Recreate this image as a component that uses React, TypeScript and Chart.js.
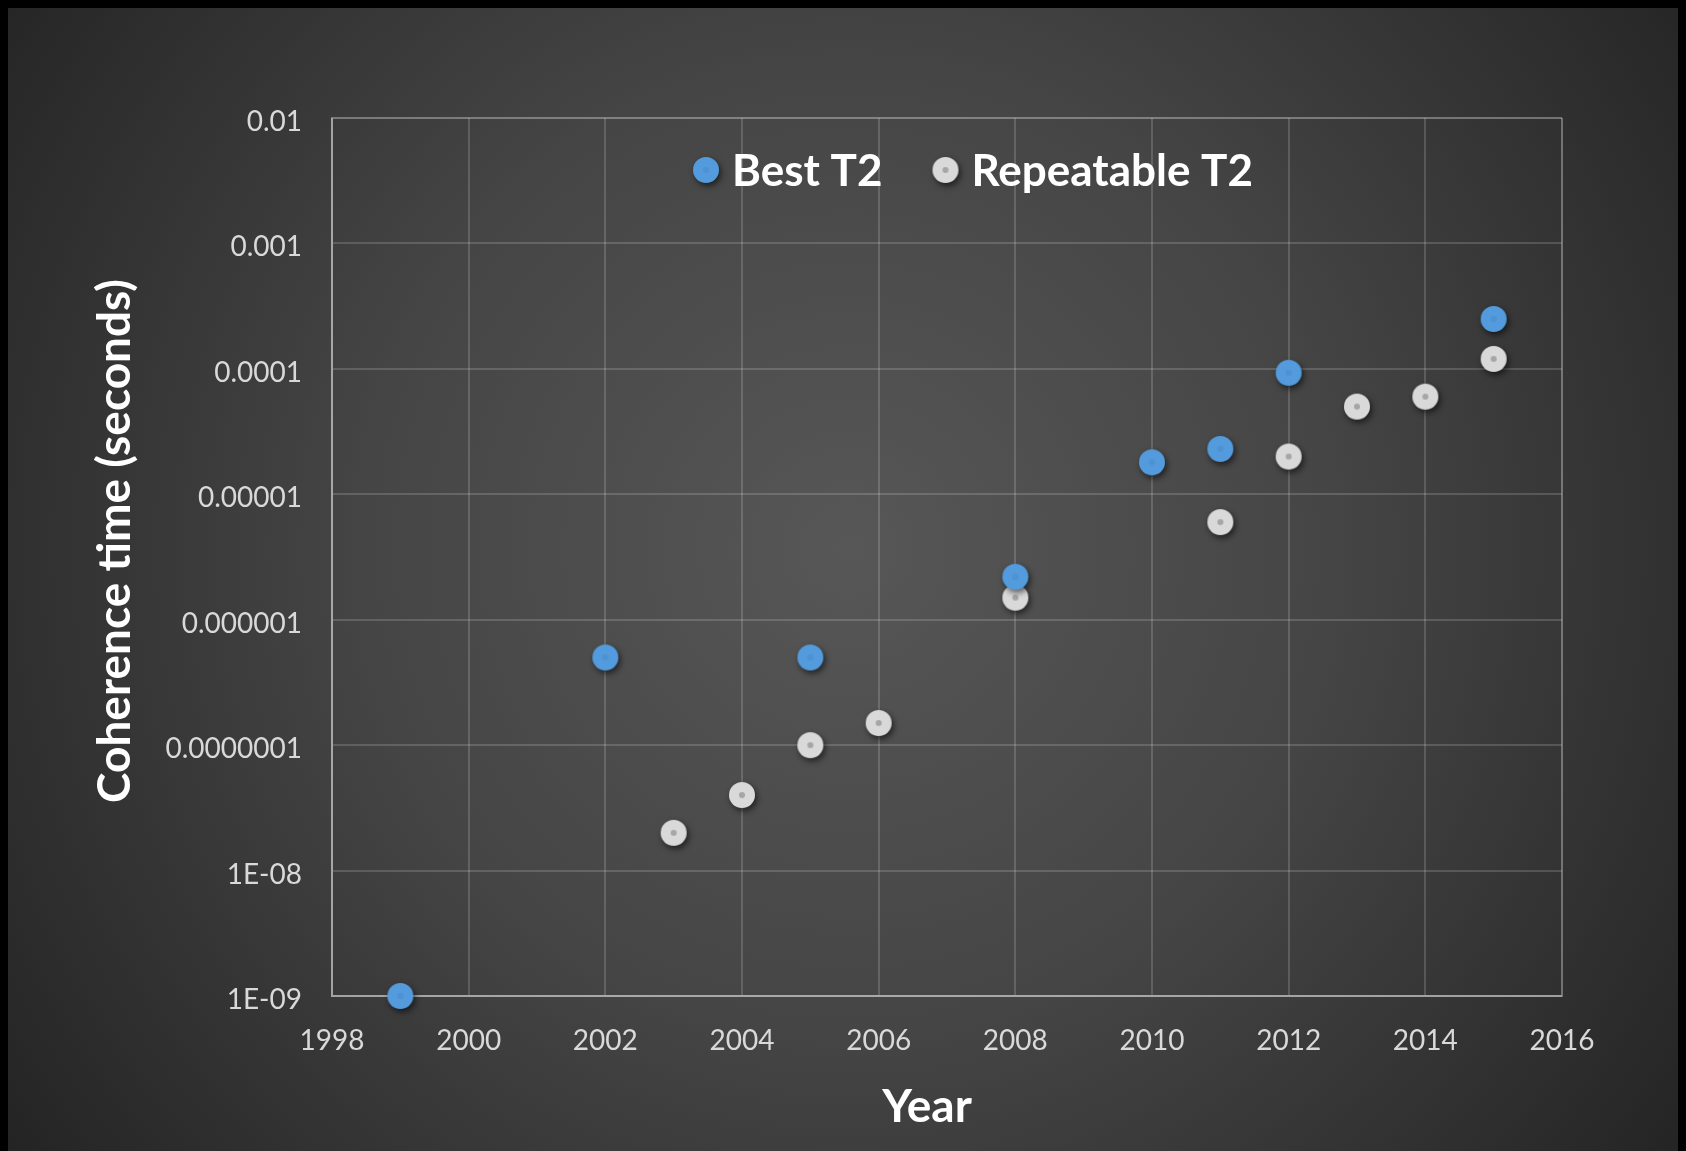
import { useEffect, useRef } from 'react';
import { Chart, registerables } from 'chart.js';

Chart.register(...registerables);

// ---- data ----
const seriesNames = ['Best T2', 'Repeatable T2'];
const bestYears = [1999, 2002, 2005, 2008, 2010, 2011, 2012, 2015];
const bestT2 = [1e-9, 5e-7, 5e-7, 2.2e-6, 1.8e-5, 2.3e-5, 9.3e-5, 2.5e-4];
const repYears = [2003, 2004, 2005, 2006, 2008, 2011, 2012, 2013, 2014, 2015];
const repT2 = [2e-8, 4e-8, 1e-7, 1.5e-7, 1.5e-6, 6e-6, 2e-5, 5e-5, 6e-5, 1.2e-4];
const yTickValues = [1e-9, 1e-8, 1e-7, 1e-6, 1e-5, 1e-4, 1e-3, 1e-2];
const yTickLabels = ['1E-09', '1E-08', '0.0000001', '0.000001', '0.00001', '0.0001', '0.001', '0.01'];
const xMin = 1998;
const xMax = 2016;
const xStep = 2;
const xTitle = 'Year';
const yTitle = 'Coherence time (seconds)';

const W = 1678;
const H = 1143;
const FONT = 'Lato, "Open Sans", sans-serif';

function makeMarker(fill: string, dot: string): HTMLCanvasElement {
  const s = 48;
  const c = document.createElement('canvas');
  c.width = s;
  c.height = s;
  const g = c.getContext('2d')!;
  g.save();
  g.shadowColor = 'rgba(0,0,0,0.6)';
  g.shadowBlur = 6;
  g.shadowOffsetX = 2;
  g.shadowOffsetY = 3;
  g.beginPath();
  g.arc(s / 2, s / 2, 13, 0, Math.PI * 2);
  g.fillStyle = fill;
  g.fill();
  g.restore();
  g.beginPath();
  g.arc(s / 2, s / 2, 3, 0, Math.PI * 2);
  g.fillStyle = dot;
  g.fill();
  return c;
}

export default function App() {
  const ref = useRef<HTMLCanvasElement | null>(null);

  useEffect(() => {
    document.body.style.background = '#000';
    document.documentElement.style.overflow = 'hidden';
    document.body.style.overflow = 'hidden';
    const canvas = ref.current!;
    const blueMarker = makeMarker('#539bdc', '#4d92d2');
    const grayMarker = makeMarker('#d9d9d9', '#a6a6a6');
    const markers = [blueMarker, grayMarker];

    const bgPlugin = {
      id: 'bg',
      beforeDraw(chart: any) {
        const { ctx, width, height } = chart;
        ctx.save();
        const grad = ctx.createRadialGradient(840, 540, 0, 840, 540, 1080);
        grad.addColorStop(0, '#575757');
        grad.addColorStop(0.45, '#454545');
        grad.addColorStop(1, '#212121');
        ctx.fillStyle = grad;
        ctx.fillRect(0, 0, width, height);
        ctx.restore();
      },
    };

    const titlesPlugin = {
      id: 'axisTitles',
      afterDraw(chart: any) {
        const { ctx, chartArea } = chart;
        ctx.save();
        ctx.fillStyle = '#ffffff';
        ctx.font = `bold 46px ${FONT}`;
        ctx.textAlign = 'center';
        ctx.textBaseline = 'middle';
        // x title
        ctx.fillText(xTitle, (chartArea.left + chartArea.right) / 2 - 20, chartArea.bottom + 111);
        // y title
        ctx.translate(chartArea.left - 217, (chartArea.top + chartArea.bottom) / 2 - 16);
        ctx.rotate(-Math.PI / 2);
        ctx.fillText(yTitle, 0, 0);
        ctx.restore();
      },
    };

    const legendPlugin = {
      id: 'customLegend',
      afterDatasetsDraw(chart: any) {
        const { ctx, chartArea } = chart;
        ctx.save();
        ctx.font = `bold 44px ${FONT}`;
        const r = 13;
        const gapMT = 13;
        const itemGap = 50;
        const labels = chart.data.datasets.map((d: any) => d.label as string);
        let x = chartArea.left + 361;
        const y = chartArea.top + 52;
        labels.forEach((l: string, i: number) => {
          const m = markers[i];
          ctx.drawImage(m, x + r - m.width / 2, y - m.height / 2);
          ctx.fillStyle = '#ffffff';
          ctx.textAlign = 'left';
          ctx.textBaseline = 'middle';
          ctx.fillText(l, x + 2 * r + gapMT, y + 2);
          x += 2 * r + gapMT + ctx.measureText(l).width + itemGap;
        });
        ctx.restore();
      },
    };

    const gridColor = 'rgba(255,255,255,0.16)';
    const edgeColor = 'rgba(255,255,255,0.32)';

    const chart = new Chart(canvas, {
      type: 'scatter',
      data: {
        datasets: [
          {
            label: seriesNames[0],
            data: bestYears.map((x, i) => ({ x, y: bestT2[i] })),
            pointStyle: blueMarker as any,
            pointRadius: 13,
            backgroundColor: '#539bdc',
            clip: false,
          },
          {
            label: seriesNames[1],
            data: repYears.map((x, i) => ({ x, y: repT2[i] })),
            pointStyle: grayMarker as any,
            pointRadius: 13,
            backgroundColor: '#d9d9d9',
            clip: false,
          },
        ],
      },
      options: {
        responsive: false,
        animation: false,
        layout: { padding: { top: 110, right: 124, left: 0, bottom: 0 } },
        plugins: {
          legend: { display: false },
          tooltip: { enabled: false },
        },
        scales: {
          x: {
            type: 'linear',
            min: xMin,
            max: xMax,
            ticks: {
              stepSize: xStep,
              color: '#d9d9d9',
              font: { family: FONT, size: 28 },
              padding: 28,
              callback: (v: any) => String(v),
            },
            grid: {
              drawTicks: false,
              color: (c: any) => (c.tick && (c.tick.value === xMax || c.tick.value === xMin) ? edgeColor : gridColor),
              lineWidth: 2,
            },
            border: { display: true, color: edgeColor, width: 2 },
            title: { display: false },
            afterFit: (s: any) => {
              s.height = 155;
            },
          },
          y: {
            type: 'logarithmic',
            min: yTickValues[0],
            max: yTickValues[yTickValues.length - 1],
            afterBuildTicks: (s: any) => {
              s.ticks = yTickValues.map((v) => ({ value: v }));
            },
            ticks: {
              color: '#d9d9d9',
              font: { family: FONT, size: 28 },
              padding: 30,
              labelOffset: 4,
              autoSkip: false,
              callback: (v: any) => {
                const i = yTickValues.findIndex((t) => Math.abs(Math.log10(t) - Math.log10(v)) < 1e-6);
                return i >= 0 ? yTickLabels[i] : '';
              },
            },
            grid: {
              drawTicks: false,
              color: (c: any) =>
                c.tick && (c.tick.value === yTickValues[yTickValues.length - 1] || c.tick.value === yTickValues[0])
                  ? edgeColor
                  : gridColor,
              lineWidth: 2,
            },
            border: { display: true, color: edgeColor, width: 2 },
            title: { display: false },
            afterFit: (s: any) => {
              s.width = 324;
            },
          },
        },
      } as any,
      plugins: [bgPlugin, legendPlugin, titlesPlugin],
    });

    return () => chart.destroy();
  }, []);

  return (
    <div style={{ width: W, height: H }}>
      <canvas ref={ref} width={W} height={H} style={{ display: 'block', width: W, height: H }} />
    </div>
  );
}
